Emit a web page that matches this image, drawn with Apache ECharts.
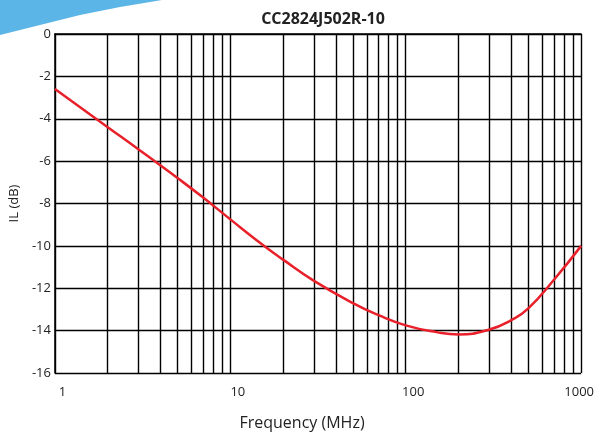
<!DOCTYPE html>
<html>
<head>
<meta charset="utf-8">
<script src="https://cdn.jsdelivr.net/npm/echarts@6/dist/echarts.min.js"></script>
<style>html,body{margin:0;padding:0;background:#fff;}#c{width:597px;height:438px;}</style>
</head>
<body>
<div id="c"></div>
<script>
var titleText = 'CC2824J502R-10';
var freqMHz = [1,2,3,5,7,10,15,20,30,50,70,100,150,200,300,400,500,700,1000];
var ilDb = [-2.6,-4.4,-5.45,-6.8,-7.72,-8.75,-9.9,-10.65,-11.65,-12.7,-13.27,-13.75,-14.07,-14.18,-13.95,-13.5,-12.95,-11.6,-10.0];
var minorGridFreqs = [2,3,4,5,6,7,8,9,20,30,40,50,60,70,80,90,200,300,400,500,600,700,800,900];

var chart = echarts.init(document.getElementById('c'), null, {renderer: 'canvas'});
var font = '"Open Sans", "Noto Sans", sans-serif';
chart.setOption({
  animation: false,
  backgroundColor: '#fff',
  graphic: [{
    type: 'polygon',
    silent: true,
    z: -1,
    shape: {points: [[0,0],[162,0],[120,7],[80,15],[40,25],[0,35]]},
    style: {fill: '#5bb5e6'}
  }],
  title: {
    text: titleText,
    left: 318, top: 6, textAlign: 'center',
    textStyle: {fontFamily: font, fontSize: 16, fontWeight: 'bold', color: '#222'}
  },
  grid: {left: 51, right: 13, top: 34, bottom: 65, containLabel: false},
  xAxis: {
    type: 'log', logBase: 10, min: 1, max: 1000,
    name: 'Frequency (MHz)', nameLocation: 'middle', nameGap: 42,
    nameTextStyle: {fontFamily: font, fontSize: 16, color: '#222', padding: [0, 32, 0, 0]},
    axisLine: {show: true, lineStyle: {color: '#000', width: 1.5}},
    axisTick: {show: false},
    axisLabel: {
      fontFamily: font, fontSize: 13, color: '#222', margin: 13,
      formatter: function (v) { return v >= 1000 ? '{e|' + v + '}' : '{s|' + v + '}'; },
      rich: {
        s: {fontFamily: font, fontSize: 13, color: '#222', padding: [0, 0, 0, 15]},
        e: {fontFamily: font, fontSize: 13, color: '#222', padding: [0, 4, 0, 0]}
      }
    },
    splitLine: {show: true, lineStyle: {color: '#000', width: 1.4}}
  },
  yAxis: {
    type: 'value', min: -16, max: 0, interval: 2,
    name: 'IL (dB)', nameLocation: 'middle', nameGap: 29,
    nameTextStyle: {fontFamily: font, fontSize: 13, color: '#222'},
    axisLine: {show: true, lineStyle: {color: '#000', width: 1.5}},
    axisTick: {show: false},
    axisLabel: {fontFamily: font, fontSize: 13, color: '#222', margin: 4},
    splitLine: {show: true, lineStyle: {color: '#000', width: 1.4}}
  },
  series: [{
    type: 'line',
    data: freqMHz.map(function (f, i) { return [f, ilDb[i]]; }),
    smooth: 0.5,
    showSymbol: false,
    z: 5,
    lineStyle: {color: '#e8202a', width: 2.5},
    markLine: {
      silent: true,
      symbol: ['none', 'none'],
      label: {show: false},
      animation: false,
      z: 1,
      lineStyle: {color: '#000', width: 1.4, type: 'solid'},
      data: minorGridFreqs.map(function (f) { return {xAxis: f}; })
    }
  }]
});
</script>
</body>
</html>
